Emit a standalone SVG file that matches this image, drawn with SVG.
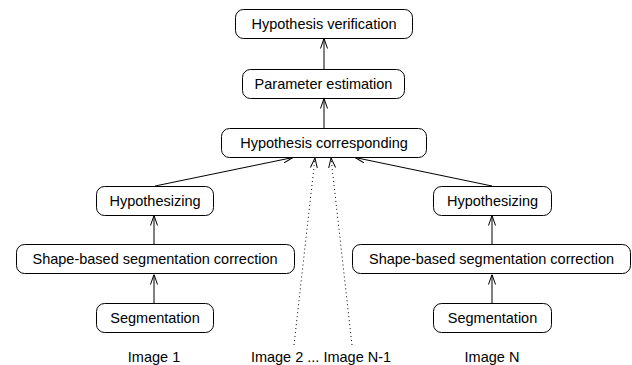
<svg xmlns="http://www.w3.org/2000/svg" width="632" height="365" viewBox="0 0 632 365">
<style>
.box{fill:#fff;stroke:#000;stroke-width:1}
.t{font-family:"Liberation Sans",Arial,sans-serif;font-size:14.5px;fill:#000;text-anchor:middle}
.c{stroke:#000;stroke-width:1;fill:none;marker-end:url(#ah)}
.d{stroke-dasharray:1,3}
</style>
<defs>
<marker id="ah" markerUnits="userSpaceOnUse" viewBox="0 0 10 8" refX="10" refY="4" markerWidth="10" markerHeight="8" orient="auto">
<path d="M0,0.5 L10,4 L0,7.5" fill="none" stroke="#000" stroke-width="1" stroke-dasharray="none"/>
</marker>
</defs>
<rect width="632" height="365" fill="#fff"/>
<g id="connectors">
<line class="c" x1="324" y1="69" x2="324" y2="38.5"/>
<line class="c" x1="324" y1="128" x2="324" y2="98.5"/>
<line class="c" x1="155" y1="186" x2="293" y2="157.5"/>
<line class="c" x1="492" y1="186" x2="355" y2="157.5"/>
<line class="c d" x1="294" y1="345" x2="315" y2="158"/>
<line class="c d" x1="352" y1="345" x2="331" y2="158"/>
<line class="c" x1="154" y1="244" x2="154" y2="215.5"/>
<line class="c" x1="154" y1="303" x2="154" y2="274.5"/>
<line class="c" x1="492" y1="244" x2="492" y2="215.5"/>
<line class="c" x1="492" y1="303" x2="492" y2="274.5"/>
</g>
<g id="n-verification"><rect class="box" x="235.5" y="9.5" width="177" height="29" rx="8"/><text class="t" x="324" y="29">Hypothesis verification</text></g>
<g id="n-parameter"><rect class="box" x="242.5" y="69.5" width="162" height="29" rx="8"/><text class="t" x="323.5" y="89">Parameter estimation</text></g>
<g id="n-corresponding"><rect class="box" x="221.5" y="128.5" width="205" height="29" rx="8"/><text class="t" x="324" y="148">Hypothesis corresponding</text></g>
<g id="n-hyp1"><rect class="box" x="96.5" y="186.5" width="117" height="29" rx="8"/><text class="t" x="155" y="206">Hypothesizing</text></g>
<g id="n-shape1"><rect class="box" x="16.5" y="244.5" width="278" height="29" rx="8"/><text class="t" x="155" y="264">Shape-based segmentation correction</text></g>
<g id="n-seg1"><rect class="box" x="96.5" y="303.5" width="117" height="29" rx="8"/><text class="t" x="155" y="323">Segmentation</text></g>
<g id="n-hypN"><rect class="box" x="433.5" y="186.5" width="118" height="29" rx="8"/><text class="t" x="492.5" y="206">Hypothesizing</text></g>
<g id="n-shapeN"><rect class="box" x="352.5" y="244.5" width="278" height="29" rx="8"/><text class="t" x="491.5" y="264">Shape-based segmentation correction</text></g>
<g id="n-segN"><rect class="box" x="433.5" y="303.5" width="118" height="29" rx="8"/><text class="t" x="492.5" y="323">Segmentation</text></g>
<g id="labels">
<text class="t" x="154" y="362">Image 1</text>
<text class="t" x="321" y="362">Image 2 ... Image N-1</text>
<text class="t" x="492" y="362">Image N</text>
</g>
</svg>
